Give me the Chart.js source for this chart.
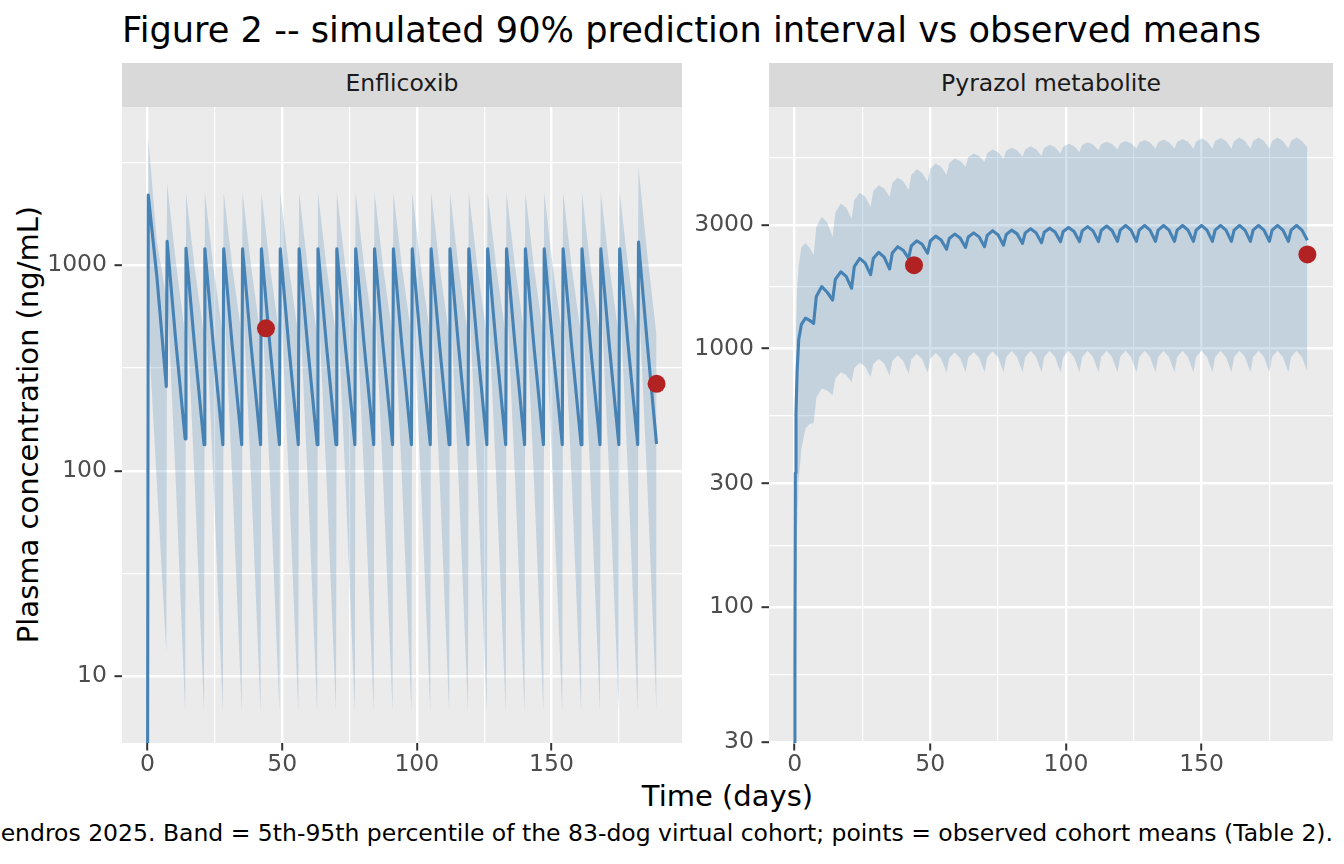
<!DOCTYPE html>
<html>
<head>
<meta charset="utf-8">
<title>Figure 2</title>
<script src="https://cdn.jsdelivr.net/npm/chart.js@4.4.1/dist/chart.umd.min.js"></script>
<style>
  body { margin: 0; background: #ffffff; font-family: "DejaVu Sans", sans-serif; }
  #page { position: relative; width: 1344px; height: 864px; overflow: hidden; background: #ffffff; }
  .abs { position: absolute; white-space: nowrap; }
  .title { left: 122px; top: 12.2px; font-size: 35.2px; line-height: 35.2px; color: #000000; }
  .strip { top: 63px; height: 44px; background: #D9D9D9; color: #1A1A1A; font-size: 23.5px; line-height: 41px; text-align: center; }
  .ytitle { left: -272px; top: 410px; width: 600px; height: 29px; font-size: 29px; line-height: 29px; text-align: center; transform: rotate(-90deg); color: #000000; }
  .xtitle { left: 527.5px; top: 782.2px; width: 400px; font-size: 29px; line-height: 29px; text-align: center; color: #000000; }
  .caption { right: 11px; top: 821.8px; font-size: 23.5px; line-height: 23.5px; color: #000000; }
  .wrap { position: absolute; top: 0; height: 864px; }
</style>
</head>
<body>
<div id="page">
  <div class="abs title">Figure 2 -- simulated 90% prediction interval vs observed means</div>
  <div class="abs strip" style="left:122px; width:560px;">Enflicoxib</div>
  <div class="abs strip" style="left:769px; width:564px;">Pyrazol metabolite</div>
  <div class="abs ytitle">Plasma concentration (ng/mL)</div>
  <div class="abs xtitle">Time (days)</div>
  <div class="abs caption">endros 2025. Band = 5th-95th percentile of the 83-dog virtual cohort; points = observed cohort means (Table 2).</div>
  <div class="wrap" style="left:0; width:700px;"><canvas id="enfChart"></canvas></div>
  <div class="wrap" style="left:690px; width:654px;"><canvas id="pyrChart"></canvas></div>
</div>

<script>
// ---- Enflicoxib (parent drug), weekly dosing ----
const enfDays = [
  0, 0.3, 3.5,
  7, 7.3, 10.5,
  14, 14.3, 17.5,
  21, 21.3, 24.5,
  28, 28.3, 31.5,
  35, 35.3, 38.5,
  42, 42.3, 45.5,
  49, 49.3, 52.5,
  56, 56.3, 59.5,
  63, 63.3, 66.5,
  70, 70.3, 73.5,
  77, 77.3, 80.5,
  84, 84.3, 87.5,
  91, 91.3, 94.5,
  98, 98.3, 101.5,
  105, 105.3, 108.5,
  112, 112.3, 115.5,
  119, 119.3, 122.5,
  126, 126.3, 129.5,
  133, 133.3, 136.5,
  140, 140.3, 143.5,
  147, 147.3, 150.5,
  154, 154.3, 157.5,
  161, 161.3, 164.5,
  168, 168.3, 171.5,
  175, 175.3, 178.5,
  182, 182.3, 185.5,
  189
];
const enfMedian = [
  1, 2200, 880,
  257, 1310, 430,
  143, 1210, 405,
  134, 1205, 402,
  134, 1205, 402,
  134, 1205, 402,
  134, 1205, 402,
  134, 1205, 402,
  134, 1205, 402,
  134, 1205, 402,
  134, 1205, 402,
  134, 1205, 402,
  134, 1205, 402,
  134, 1205, 402,
  134, 1205, 402,
  134, 1205, 402,
  134, 1205, 402,
  134, 1205, 402,
  134, 1205, 402,
  134, 1205, 402,
  134, 1205, 402,
  134, 1205, 402,
  134, 1205, 402,
  134, 1205, 402,
  134, 1205, 402,
  134, 1205, 402,
  134, 1300, 425,
  135
];
const enfHi = [
  1, 4200, 1300,
  700, 2500, 1050,
  455, 2270, 980,
  455, 2270, 980,
  455, 2270, 980,
  455, 2270, 980,
  455, 2270, 980,
  455, 2270, 980,
  455, 2270, 980,
  455, 2270, 980,
  455, 2270, 980,
  455, 2270, 980,
  455, 2270, 980,
  455, 2270, 980,
  455, 2270, 980,
  455, 2270, 980,
  455, 2270, 980,
  455, 2270, 980,
  455, 2270, 980,
  455, 2270, 980,
  455, 2270, 980,
  455, 2270, 980,
  455, 2270, 980,
  455, 2270, 980,
  455, 2270, 980,
  455, 2270, 980,
  455, 3000, 1150,
  456
];
const enfLo = [
  1, 500, 87,
  13, 750, 90,
  6.7, 750, 90,
  6.7, 750, 90,
  6.7, 750, 90,
  6.7, 750, 90,
  6.7, 750, 90,
  6.7, 750, 90,
  6.7, 750, 90,
  6.7, 750, 90,
  6.7, 750, 90,
  6.7, 750, 90,
  6.7, 750, 90,
  6.7, 750, 90,
  6.7, 750, 90,
  6.7, 750, 90,
  6.7, 750, 90,
  6.7, 750, 90,
  6.7, 750, 90,
  6.7, 750, 90,
  6.7, 750, 90,
  6.7, 750, 90,
  6.7, 750, 90,
  6.7, 750, 90,
  6.7, 750, 90,
  6.7, 750, 90,
  6.7, 750, 90,
  6.7
];
const enfObsDays = [44, 189];
const enfObsConc = [494, 265];

// ---- Pyrazol metabolite ----
const pyrDays = [
  0, 0.1, 0.25, 0.5, 0.9, 1.5, 2.5, 4, 5.5,
  7, 8, 10, 12,
  14, 15, 17, 19,
  21, 22, 24, 26,
  28, 29, 31, 33,
  35, 36, 38, 40,
  42, 43, 45, 47,
  49, 50, 52, 54,
  56, 57, 59, 61,
  63, 64, 66, 68,
  70, 71, 73, 75,
  77, 78, 80, 82,
  84, 85, 87, 89,
  91, 92, 94, 96,
  98, 99, 101, 103,
  105, 106, 108, 110,
  112, 113, 115, 117,
  119, 120, 122, 124,
  126, 127, 129, 131,
  133, 134, 136, 138,
  140, 141, 143, 145,
  147, 148, 150, 152,
  154, 155, 157, 159,
  161, 162, 164, 166,
  168, 169, 171, 173,
  175, 176, 178, 180,
  182, 183, 185, 187,
  189
];
const pyrMedian = [
  1, 60, 330, 560, 810, 1080, 1240, 1310, 1285,
  1250, 1590, 1735, 1650,
  1540, 1850, 1980, 1900,
  1710, 2075, 2230, 2140,
  1930, 2230, 2355, 2257,
  2030, 2340, 2475, 2400,
  2230, 2495, 2610, 2530,
  2335, 2605, 2720, 2630,
  2420, 2665, 2770, 2677,
  2460, 2700, 2800, 2702,
  2475, 2740, 2855, 2750,
  2510, 2760, 2870, 2775,
  2550, 2800, 2905, 2800,
  2565, 2815, 2920, 2820,
  2590, 2835, 2940, 2835,
  2590, 2850, 2960, 2850,
  2590, 2860, 2975, 2860,
  2595, 2870, 2990, 2870,
  2595, 2870, 2990, 2870,
  2595, 2870, 2990, 2870,
  2595, 2870, 2990, 2870,
  2595, 2870, 2990, 2870,
  2595, 2870, 2990, 2870,
  2595, 2870, 2990, 2870,
  2595, 2870, 2990, 2870,
  2595, 2870, 2990, 2870,
  2595, 2870, 2990, 2870,
  2620
];
const pyrHi = [
  1, 150, 700, 1150, 1690, 2100, 2460, 2560, 2450,
  2300, 2950, 3230, 3070,
  2700, 3360, 3640, 3500,
  3185, 3755, 4000, 3860,
  3535, 4065, 4280, 4155,
  3860, 4370, 4590, 4445,
  4100, 4680, 4930, 4775,
  4410, 4955, 5190, 5040,
  4690, 5210, 5430, 5315,
  5050, 5490, 5680, 5555,
  5270, 5700, 5880, 5745,
  5430, 5815, 5980, 5840,
  5510, 5880, 6050, 5900,
  5550, 5960, 6140, 6000,
  5680, 6035, 6190, 6060,
  5760, 6120, 6270, 6145,
  5850, 6165, 6300, 6175,
  5880, 6200, 6340, 6215,
  5930, 6260, 6400, 6260,
  5930, 6280, 6430, 6280,
  5930, 6300, 6460, 6300,
  5930, 6320, 6490, 6320,
  5930, 6340, 6520, 6340,
  5930, 6350, 6540, 6350,
  5930, 6350, 6550, 6350,
  5930, 6350, 6550, 6350,
  5930, 6350, 6550, 6350,
  6000
];
const pyrLo = [
  1, 15, 50, 110, 200, 310, 410, 490, 510,
  515, 645, 700, 688,
  659, 765, 810, 790,
  741, 840, 881, 850,
  776, 871, 912, 875,
  787, 894, 940, 897,
  798, 907, 954, 910,
  805, 913, 960, 915,
  808, 918, 965, 918,
  810, 922, 970, 922,
  810, 925, 975, 925,
  810, 928, 980, 928,
  810, 928, 980, 928,
  810, 928, 980, 928,
  810, 928, 980, 928,
  810, 928, 980, 928,
  810, 928, 980, 928,
  810, 928, 980, 928,
  810, 928, 980, 928,
  810, 928, 980, 928,
  810, 928, 980, 928,
  810, 928, 980, 928,
  810, 928, 980, 928,
  810, 928, 980, 928,
  810, 928, 980, 928,
  810, 928, 980, 928,
  810, 928, 980, 928,
  815
];
const pyrObsDays = [44, 189];
const pyrObsConc = [2100, 2310];

// ---- axis breaks ----
const xMajor = [0, 50, 100, 150];
const xMinor = [25, 75, 125, 175];
const enfYMajor = [10, 100, 1000];
const enfYMinor = [31.62, 316.2, 3162];
const pyrYMajor = [30, 100, 300, 1000, 3000];
const pyrYMinor = [54.77, 173.2, 547.7, 1732, 5477];

const FONT = "DejaVu Sans";
const BAND = "rgba(70, 130, 180, 0.24)";

const panelBg = {
  id: "panelBg",
  beforeDraw(chart) {
    const { ctx, chartArea: a } = chart;
    ctx.save();
    ctx.fillStyle = "#EBEBEB";
    ctx.fillRect(a.left, a.top, a.right - a.left, a.bottom - a.top);
    ctx.restore();
  },
};

function xy(days, vals) {
  return days.map((d, i) => ({ x: d, y: vals[i] }));
}

function isIn(list, v) {
  return list.some((m) => Math.abs(m - v) < 1e-9);
}

function makePanel(id, p) {
  const ctx = document.getElementById(id);
  return new Chart(ctx, {
    type: "line",
    data: {
      datasets: [
        { data: xy(p.days, p.lo), borderColor: "rgba(0,0,0,0)", borderWidth: 0, pointRadius: 0, fill: false, order: 3, clip: 0 },
        { data: xy(p.days, p.hi), borderColor: "rgba(0,0,0,0)", borderWidth: 0, pointRadius: 0, fill: "-1", backgroundColor: BAND, order: 2, clip: 0 },
        { data: xy(p.days, p.median), borderColor: "#4682B4", borderWidth: 3.1, borderJoinStyle: "round", pointRadius: 0, fill: false, order: 1, clip: 0 },
        { data: xy(p.obsDays, p.obsConc), showLine: false, pointRadius: 9, pointBackgroundColor: "#B22222", pointBorderWidth: 0, order: 0 },
      ],
    },
    options: {
      responsive: true,
      maintainAspectRatio: false,
      animation: false,
      events: [],
      layout: { padding: { top: 107, right: p.padRight, bottom: 0, left: 0 } },
      plugins: { legend: { display: false }, tooltip: { enabled: false } },
      scales: {
        x: {
          type: "linear",
          min: -9.45,
          max: 198.45,
          bounds: "data",
          afterBuildTicks: (s) => {
            s.ticks = xMajor.concat(xMinor).sort((a, b) => a - b).map((v) => ({ value: v }));
          },
          afterFit: (s) => { s.height = 121; },
          border: { display: false },
          grid: {
            color: "#FFFFFF",
            lineWidth: (c) => (c.tick && isIn(xMajor, c.tick.value) ? 2.4 : 1.2),
            tickLength: 7.5,
            tickWidth: 2,
            tickColor: (c) => (c.tick && isIn(xMajor, c.tick.value) ? "#333333" : "rgba(0,0,0,0)"),
          },
          ticks: {
            autoSkip: false,
            maxRotation: 0,
            padding: 0,
            color: "#4D4D4D",
            font: { family: FONT, size: 23.5 },
            callback: (v) => (isIn(xMajor, v) ? String(v) : ""),
          },
        },
        y: {
          type: "logarithmic",
          min: p.yMin,
          max: p.yMax,
          bounds: "data",
          afterBuildTicks: (s) => {
            s.ticks = p.yMajor.concat(p.yMinor).sort((a, b) => a - b).map((v) => ({ value: v }));
          },
          afterFit: (s) => { s.width = p.axisWidth; },
          border: { display: false },
          grid: {
            color: "#FFFFFF",
            lineWidth: (c) => (c.tick && isIn(p.yMajor, c.tick.value) ? 2.4 : 1.2),
            tickLength: 7.5,
            tickWidth: 2,
            tickColor: (c) => (c.tick && isIn(p.yMajor, c.tick.value) ? "#333333" : "rgba(0,0,0,0)"),
          },
          ticks: {
            autoSkip: false,
            padding: 7.5,
            color: "#4D4D4D",
            font: { family: FONT, size: 23.5 },
            callback: (v) => (isIn(p.yMajor, v) ? String(v) : ""),
          },
        },
      },
    },
    plugins: [panelBg],
  });
}

makePanel("enfChart", {
  days: enfDays, median: enfMedian, lo: enfLo, hi: enfHi,
  obsDays: enfObsDays, obsConc: enfObsConc,
  yMin: 4.73, yMax: 5900, yMajor: enfYMajor, yMinor: enfYMinor,
  axisWidth: 122, padRight: 18,
});

makePanel("pyrChart", {
  days: pyrDays, median: pyrMedian, lo: pyrLo, hi: pyrHi,
  obsDays: pyrObsDays, obsConc: pyrObsConc,
  yMin: 29.8, yMax: 8590, yMajor: pyrYMajor, yMinor: pyrYMinor,
  axisWidth: 79, padRight: 11,
});
</script>
</body>
</html>
